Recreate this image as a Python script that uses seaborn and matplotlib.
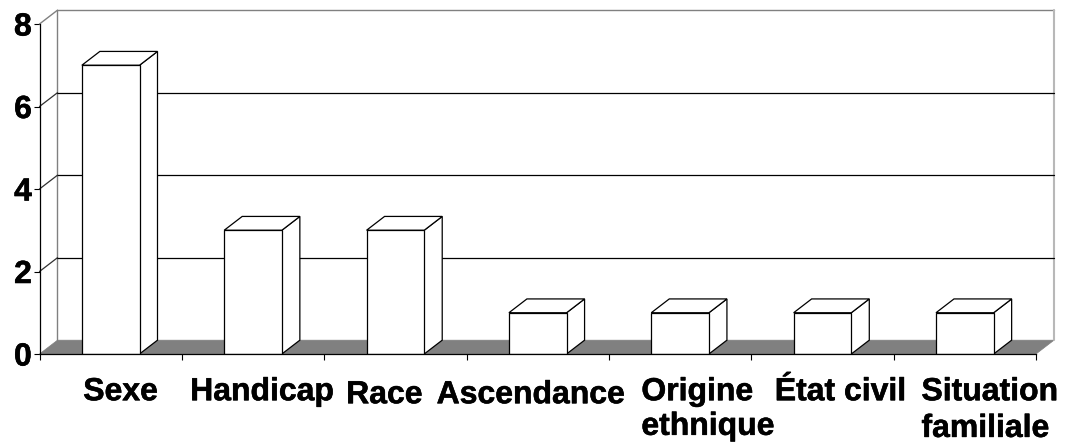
import matplotlib
matplotlib.use("Agg")
import matplotlib.pyplot as plt
import matplotlib.patheffects as pe
from matplotlib.patches import Polygon
from matplotlib.transforms import ScaledTranslation
import pandas as pd
import seaborn as sns

# Data
categories = ["Sexe", "Handicap", "Race", "Ascendance",
              "Origine\nethnique", "État civil", "Situation\nfamiliale"]
values = [7, 3, 3, 1, 1, 1, 1]
y_ticks = [0, 2, 4, 6, 8]

# Style / layout
W, H = 1073, 443
LEFT, RIGHT, TOP, BOTTOM = 39.5, 1036.0, 24.0, 354.0
DX = 0.1264          # depth in category units
DY = 0.335           # depth in value units
GREY = "#808080"
label_shift_px = [(10, 1), (9, 1), (-11, 4), (-7, 4), (28, 1), (18, 1), (25, 1)]
label_spacing = [1.2, 1.2, 1.2, 1.2, 1.2, 1.2, 1.29]

sns.set_theme(style="white")
plt.rcParams["font.family"] = ["Liberation Sans", "DejaVu Sans"]

fig = plt.figure(figsize=(W / 100, H / 100), dpi=100, facecolor="white")
ax = fig.add_axes([LEFT / W, 1 - BOTTOM / H, (RIGHT - LEFT) / W, (BOTTOM - TOP) / H])

df = pd.DataFrame({"cat": categories, "val": values})
sns.barplot(data=df, x="cat", y="val", ax=ax, width=0.405, color="white",
            saturation=1, edgecolor="black", linewidth=0.9, zorder=6)

n = len(categories)
x0, x1 = -0.5, n - 0.5
ax.set_xlim(x0, x1)
ax.set_ylim(0, 8)
ax.set_xlabel("")
ax.set_ylabel("")
ax.patch.set_alpha(0)

# Floor
ax.add_patch(Polygon([(x0, 0), (x1, 0), (x1 + DX, DY), (x0 + DX, DY)],
                     closed=True, fc=GREY, ec=GREY, lw=0.5, zorder=1, clip_on=False))
# Back wall
ax.plot([x0 + DX, x1 + DX], [8 + DY, 8 + DY], color=GREY, lw=1.0, zorder=2, clip_on=False)
ax.plot([x0 + DX, x0 + DX], [DY, 8 + DY], color=GREY, lw=1.0, zorder=2, clip_on=False)
ax.plot([x1 + DX, x1 + DX], [DY, 8 + DY], color="#b8b8b8", lw=1.5, zorder=2, clip_on=False)
ax.plot([x0, x0 + DX], [8, 8 + DY], color=GREY, lw=1.0, zorder=2, clip_on=False)
for t in y_ticks[1:-1]:
    ax.plot([x0 + DX, x1 + DX], [t + DY, t + DY], color="black", lw=0.9, zorder=2, clip_on=False)
    ax.plot([x0, x0 + DX], [t, t + DY], color="#303030", lw=0.9, zorder=2, clip_on=False)

# 3D sides of the bars
for p in ax.patches[:n]:
    l, r, h = p.get_x(), p.get_x() + p.get_width(), p.get_height()
    ax.add_patch(Polygon([(r, 0), (r + DX, DY), (r + DX, h + DY), (r, h)], closed=True,
                         fc="white", ec="black", lw=0.9, zorder=5, clip_on=False))
    ax.add_patch(Polygon([(l, h), (l + DX, h + DY), (r + DX, h + DY), (r, h)], closed=True,
                         fc="white", ec="black", lw=0.9, zorder=5, clip_on=False))

# Axes
for s in ["top", "right"]:
    ax.spines[s].set_visible(False)
for s in ["left", "bottom"]:
    ax.spines[s].set_color("black")
    ax.spines[s].set_linewidth(0.9)
    ax.spines[s].set_zorder(7)

ax.set_yticks(y_ticks)
ax.set_yticklabels([str(t) for t in y_ticks], fontsize=23, fontweight="bold", color="black")
ax.tick_params(axis="y", left=True, length=4.3, width=0.8, pad=1.2, color="black")

ax.set_xticks(range(n))
ax.set_xticklabels(categories, fontsize=23, fontweight="bold", color="black")
ax.tick_params(axis="x", which="major", bottom=False, length=0, pad=16)
ax.set_xticks([i - 0.5 for i in range(n + 1)], minor=True)
ax.tick_params(axis="x", which="minor", bottom=True, length=4.5, width=0.8, color="black")

for lab, (sx, sy), sp in zip(ax.get_xticklabels(), label_shift_px, label_spacing):
    lab.set_transform(lab.get_transform() + ScaledTranslation(sx / 100, -sy / 100, fig.dpi_scale_trans))
    lab.set_linespacing(sp)
    lab.set_multialignment("left")

stroke = [pe.withStroke(linewidth=0.4, foreground="black")]
for lab in ax.get_xticklabels() + ax.get_yticklabels():
    lab.set_path_effects(stroke)

fig.savefig("out.png", dpi=100, facecolor="white")
